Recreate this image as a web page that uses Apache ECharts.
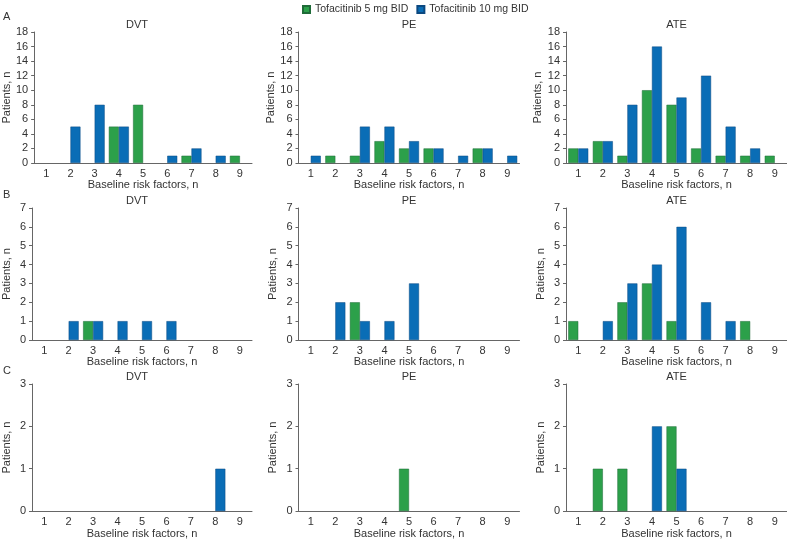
<!DOCTYPE html>
<html>
<head>
<meta charset="utf-8">
<script src="https://cdn.jsdelivr.net/npm/echarts@6/dist/echarts.min.js"></script>
<style>
html,body{margin:0;padding:0;background:#fff;}
#main{width:787px;height:540px;}
</style>
</head>
<body>
<div id="main"></div>
<script>
var myChart = echarts.init(document.getElementById('main'));

// risk factor categories (x axis)
var riskFactors = ['1','2','3','4','5','6','7','8','9'];
var seriesNames = ['Tofacitinib 5 mg BID', 'Tofacitinib 10 mg BID'];
var panelTitles = ['DVT', 'PE', 'ATE'];
var rowLetters = ['A', 'B', 'C'];

// row A
var aDvt5 = [0,0,0,5,8,0,1,0,1];
var aDvt10 = [0,5,8,5,0,1,2,1,0];
var aPe5 = [0,1,1,3,2,2,0,2,0];
var aPe10 = [1,0,5,5,3,2,1,2,1];
var aAte5 = [2,3,1,10,8,2,1,1,1];
var aAte10 = [2,3,8,16,9,12,5,2,0];
// row B
var bDvt5 = [0,0,1,0,0,0,0,0,0];
var bDvt10 = [0,1,1,1,1,1,0,0,0];
var bPe5 = [0,0,2,0,0,0,0,0,0];
var bPe10 = [0,2,1,1,3,0,0,0,0];
var bAte5 = [1,0,2,3,1,0,0,1,0];
var bAte10 = [0,1,3,4,6,2,1,0,0];
// row C
var cDvt5 = [0,0,0,0,0,0,0,0,0];
var cDvt10 = [0,0,0,0,0,0,0,1,0];
var cPe5 = [0,0,0,0,1,0,0,0,0];
var cPe10 = [0,0,0,0,0,0,0,0,0];
var cAte5 = [0,1,1,0,2,0,0,0,0];
var cAte10 = [0,0,0,2,1,0,0,0,0];

// y axis scales per row
var yMax = [18, 7, 3];
var yStep = [2, 1, 1];

var rowData = [
    [[aDvt5, aDvt10], [aPe5, aPe10], [aAte5, aAte10]],
    [[bDvt5, bDvt10], [bPe5, bPe10], [bAte5, bAte10]],
    [[cDvt5, cDvt10], [cPe5, cPe10], [cAte5, cAte10]]
];

var font = 'Liberation Sans, Arial, sans-serif';
var fs = 11;
var txt = '#333';
var axisCol = '#666';
var colLeft = [30, 298.5, 566];
var colWidth = [222, 221, 221];
var rowTop = [32, 208, 384];
var rowHeight = [131, 132, 131];
var fills = ['#2ca04a', '#0a6db6'];
var edges = ['#1f6b38', '#0b4880'];

var grids = [], xAxes = [], yAxes = [], series = [], titles = [];

for (var r = 0; r < 3; r++) {
    titles.push({
        text: rowLetters[r], left: 3, top: rowTop[r] - (r === 0 ? 21 : 19),
        padding: 0,
        textStyle: {fontFamily: font, fontSize: fs, fontWeight: 'normal', color: txt}
    });
    for (var c = 0; c < 3; c++) {
        var i = r * 3 + c;
        grids.push({left: colLeft[c], top: rowTop[r], width: colWidth[c], height: rowHeight[r]});
        titles.push({
            text: panelTitles[c],
            left: colLeft[c] + colWidth[c] / 2 - (c === 0 ? 4 : 0), top: rowTop[r] - 12.5,
            textAlign: 'center', padding: 0,
            textStyle: {fontFamily: font, fontSize: fs, fontWeight: 'normal', color: txt}
        });
        xAxes.push({
            type: 'category', gridIndex: i, data: riskFactors,
            name: 'Baseline risk factors, n', nameLocation: 'middle', nameGap: 15,
            nameTextStyle: {fontFamily: font, fontSize: fs, color: txt},
            axisLine: {lineStyle: {color: axisCol, width: 1}},
            axisTick: {alignWithLabel: true, length: 3, lineStyle: {color: axisCol}},
            axisLabel: {fontFamily: font, fontSize: fs, color: txt, margin: 5}
        });
        yAxes.push({
            type: 'value', gridIndex: i, min: 0, max: yMax[r], interval: yStep[r],
            name: 'Patients, n', nameLocation: 'middle', nameGap: 20,
            nameTextStyle: {fontFamily: font, fontSize: fs, color: txt},
            axisLine: {show: true, lineStyle: {color: axisCol, width: 1}},
            axisTick: {show: true, length: 3, lineStyle: {color: axisCol}},
            axisLabel: {fontFamily: font, fontSize: fs, color: txt, margin: 6},
            splitLine: {show: false}
        });
        for (var s = 0; s < 2; s++) {
            series.push({
                name: seriesNames[s], type: 'bar', xAxisIndex: i, yAxisIndex: i,
                barWidth: 10, barGap: '0%',
                data: rowData[r][c][s].map(function (v) { return v === 0 ? '-' : v; }),
                itemStyle: {color: fills[s], borderColor: edges[s], borderWidth: 0.5},
                animation: false
            });
        }
    }
}

var option = {
    backgroundColor: '#fff',
    animation: false,
    title: titles,
    legend: {
        data: [
            {name: seriesNames[0], icon: 'rect'},
            {name: seriesNames[1], icon: 'rect'}
        ],
        left: 297, top: -1,
        itemWidth: 7, itemHeight: 7, itemGap: 8,
        textStyle: {fontFamily: font, fontSize: 10.5, color: txt}
    },
    grid: grids,
    xAxis: xAxes,
    yAxis: yAxes,
    series: series
};

myChart.setOption(option);
</script>
</body>
</html>
